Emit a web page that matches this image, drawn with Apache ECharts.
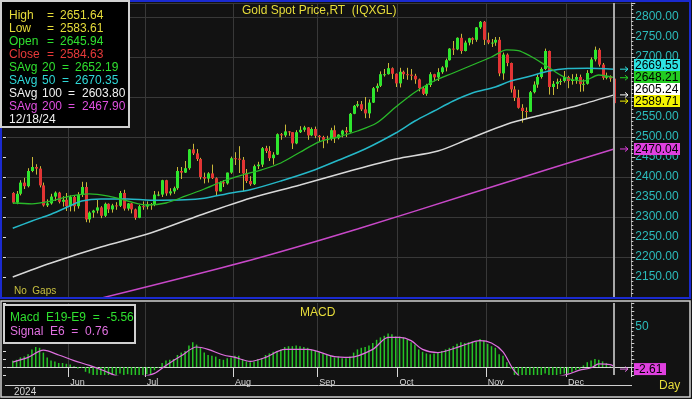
<!DOCTYPE html>
<html>
<head>
<meta charset="utf-8">
<script src="https://cdn.jsdelivr.net/npm/echarts@6/dist/echarts.min.js"></script>
<style>
html,body{margin:0;padding:0;background:#121212;}
#main{width:692px;height:399px;}
</style>
</head>
<body>
<div id="main"></div>
<script>
// daily OHLC, gold spot, 13 May – 18 Dec 2024 (weekdays)
var openVals = [
  2360,2336,2358,2386,2377,2415,2425,2421,2379,2329,2334,2351,2361,2338,2343,
  2327,2350,2327,2355,2375,2294,2311,2316,2324,2303,2333,2319,2329,2328,2360,2321,2334,2319,2298,2327,
  2326,2332,2330,2356,2356,2392,2359,2364,2372,2415,2411,2422,2469,2459,2445,2400,2396,2409,2397,2364,2387,2384,2411,
  2447,2446,2443,2409,2390,2382,2427,2431,2472,2465,2447,2456,2507,2504,2514,2512,2484,2512,2518,2524,2504,2520,
  2503,2500,2493,2495,2517,2497,2506,2516,2512,2558,2578,2582,2569,2559,2586,2622,2628,2657,2657,2672,2658,
  2634,2663,2657,2656,2653,2644,2622,2608,2630,2657,2649,2662,2674,2692,2721,2719,2748,2715,2736,2747,2743,2774,2788,
  2743,2736,2736,2743,2659,2706,2685,2619,2598,2573,2565,2563,2612,2631,2650,2670,2715,2625,2633,2638,2640,
  2650,2640,2643,2650,2632,2633,2660,2694,2718,2681,2648,2652,2645.94
];
var highVals = [
  2362,2365,2392,2398,2422,2450,2432,2427,2386,2344,2358,2364,2363,2352,2360,
  2354,2354,2362,2388,2387,2314,2318,2343,2327,2336,2334,2333,2337,2365,2368,2335,2335,2321,2330,2339,
  2339,2335,2365,2364,2393,2393,2372,2376,2425,2425,2440,2470,2483,2470,2448,2411,2412,2431,2399,2389,2392,2411,2451,
  2462,2477,2450,2420,2402,2431,2438,2475,2478,2477,2462,2509,2510,2531,2515,2512,2517,2527,2528,2525,2524,2526,
  2505,2503,2503,2523,2529,2507,2518,2525,2560,2580,2590,2590,2600,2594,2625,2634,2664,2670,2685,2674,2659,
  2673,2666,2673,2670,2658,2646,2625,2633,2662,2658,2672,2677,2696,2722,2740,2749,2758,2741,2748,2749,2775,2790,2790,
  2761,2745,2750,2750,2711,2709,2686,2627,2618,2582,2574,2615,2639,2656,2674,2721,2716,2640,2646,2646,2665,
  2653,2657,2658,2656,2644,2667,2699,2726,2722,2685,2661,2654,2651.64
];
var lowVals = [
  2333,2332,2354,2370,2374,2412,2406,2374,2326,2325,2331,2340,2334,2326,2315,
  2314,2314,2321,2350,2287,2286,2298,2309,2297,2300,2310,2311,2318,2325,2316,2316,2309,2293,2297,2318,
  2319,2318,2327,2352,2350,2353,2354,2358,2368,2395,2410,2418,2455,2440,2394,2384,2386,2395,2353,2364,2375,2381,2408,
  2430,2410,2364,2385,2378,2380,2420,2425,2460,2440,2431,2455,2493,2500,2503,2470,2482,2510,2513,2493,2502,2497,
  2489,2472,2484,2491,2485,2494,2499,2500,2511,2557,2574,2565,2547,2547,2585,2613,2625,2651,2656,2645,2625,
  2624,2645,2643,2642,2633,2614,2605,2603,2625,2639,2640,2658,2664,2691,2705,2717,2708,2714,2729,2732,2738,2770,2730,
  2732,2725,2728,2652,2643,2677,2611,2590,2571,2536,2546,2563,2609,2623,2646,2667,2606,2605,2620,2630,2636,
  2622,2631,2633,2613,2614,2631,2659,2689,2676,2643,2644,2638,2583.61
];
var closeVals = [
  2336,2358,2386,2377,2415,2425,2421,2379,2329,2334,2351,2361,2338,2343,2327,
  2350,2327,2355,2375,2294,2311,2316,2324,2303,2333,2319,2329,2328,2360,2321,2334,2319,2298,2327,2326,
  2332,2330,2356,2356,2392,2359,2364,2372,2415,2411,2422,2469,2459,2445,2400,2396,2409,2397,2364,2387,2384,2411,2447,
  2446,2443,2409,2390,2382,2427,2431,2472,2465,2447,2456,2507,2504,2514,2512,2484,2512,2518,2524,2504,2520,2503,
  2500,2493,2495,2517,2497,2506,2516,2512,2558,2578,2582,2569,2559,2586,2622,2628,2657,2657,2672,2658,2634,
  2663,2657,2656,2653,2644,2622,2608,2630,2657,2649,2662,2674,2692,2721,2719,2748,2715,2736,2747,2743,2774,2788,2743,
  2736,2736,2743,2659,2706,2685,2619,2598,2573,2565,2563,2612,2631,2650,2670,2715,2625,2633,2638,2640,2650,
  2640,2643,2650,2632,2633,2660,2694,2718,2681,2648,2652,2646,2584.63
];

// moving averages: [day index, value]
var savg20 = [[0,2335],[5,2333],[10,2340],[15,2352],[20,2358],[25,2352],[30,2340],[35,2330],[40,2335],[45,2352],
  [50,2370],[55,2390],[60,2405],[65,2418],[70,2435],[75,2462],[80,2488],[85,2500],[90,2515],[95,2535],[100,2575],
  [105,2612],[110,2640],[115,2660],[120,2680],[125,2700],[129,2718],[132,2716],[135,2703],[139,2680],[144,2650],
  [149,2640],[153,2655],[157,2648.21]];
var savg50 = [[0,2272],[5,2290],[10,2307],[15,2328],[18,2340],[23,2345],[30,2345],[36,2342],[45,2343],[50,2347],
  [57,2360],[62,2368],[70,2390],[78,2415],[85,2442],[92,2470],[100,2510],[105,2540],[110,2565],[115,2590],[120,2610],
  [126,2625],[130,2640],[135,2652],[140,2665],[145,2671],[150,2672],[157,2669.55]];
var savg100 = [[0,2150],[10,2185],[23,2225],[36,2260],[49,2305],[62,2347],[75,2380],[88,2415],[100,2445],[111,2465],
  [119,2495],[129,2532],[138,2555],[148,2580],[157,2605.24]];
var savg200 = [[0,2045],[23,2097],[62,2192],[90,2270],[120,2360],[140,2420],[157,2470.04]];

// MACD histogram and signal
var macdVals = [
  8,9,12,13,16,22,25,24,18,12,8,7,5,5,4,
  3,1,-2,-1,-6,-8,-10,-11,-13,-12,-13,-12,-11,-8,-10,-9,-10,-13,-11,-10,
  -9,-9,-4,-1,5,8,9,10,15,18,20,27,31,28,24,18,15,14,13,10,9,11,12,
  14,14,10,7,6,7,10,11,15,17,19,20,22,25,26,26,27,26,25,24,22,20,
  19,17,15,14,12,13,11,11,13,18,22,24,25,27,30,34,37,39,42,41,38,
  38,37,34,31,28,22,19,17,16,17,18,20,22,24,26,29,31,30,31,32,32,35,33,
  29,26,24,16,14,6,-2,-10,-18,-24,-28,-28,-24,-20,-15,-8,-12,-11,-10,-9,-8,
  -8,-7,-4,-3,2,6,8,10,9,7,5,1,-5.56
];
var signalVals = [[0,6],[4,12],[8,21],[12,15],[16,8],[20,2],[24,-5],[27,-11],[30,-13],[34,-12],[37,-8],[40,2],
  [44,14],[48,25],[51,22],[55,15],[58,12],[62,7],[66,12],[71,22],[77,22],[84,13],[88,12],[94,22],[98,37],[101,37],
  [104,33],[107,22],[111,18],[117,26],[122,33],[125,30],[128,19],[131,-5],[135,-20],[140,-15],[145,-9],[148,-4],
  [151,-1],[153,4],[156,3],[157,0.76]];

var priceTicks = [2150,2200,2250,2300,2350,2400,2450,2500,2550,2600,2650,2700,2750,2800];
var tagValues = [2669.55, 2648.21, 2605.24, 2589.71, 2470.04];
var tagColors = ['#2ee4e4', '#22cc22', '#ffffff', '#f2f200', '#e040e0'];
var macdTag = -2.61;

var legendNames = ['High', 'Low', 'Open', 'Close', 'SAvg', 'SAvg', 'SAvg', 'SAvg'];
var legendNums = ['', '', '', '', '20', '50', '100', '200'];
var legendValues = ['2651.64', '2583.61', '2645.94', '2584.63', '2652.19', '2670.35', '2603.80', '2467.90'];
var legendColors = ['#e6dc3a', '#e6dc3a', '#2fe02f', '#e83a3a', '#2fe02f', '#2fd8d8', '#f0f0f0', '#e050e0'];
var lastDate = '12/18/24';
var monthNames = ['Jan','Feb','Mar','Apr','May','Jun','Jul','Aug','Sep','Oct','Nov','Dec'];

// weekdays between first and last bar
var dates = [];
(function () {
  var d = new Date(2024, 4, 13), end = new Date(2024, 11, 18);
  while (d <= end) {
    var w = d.getDay();
    if (w > 0 && w < 6) dates.push(d.getFullYear() + '-' + (d.getMonth() + 1) + '-' + d.getDate());
    d.setDate(d.getDate() + 1);
  }
})();
// one empty slot on the left, four on the right
var cats = [''].concat(dates, ['', '', '', '']);
var lastIdx = dates.length; // shifted by the pad

function monthOf(s) { return s ? parseInt(s.split('-')[1], 10) : -1; }
function isMonthStart(i) {
  return i > 1 && cats[i] !== '' && cats[i - 1] !== '' && monthOf(cats[i]) !== monthOf(cats[i - 1]);
}
function shift(arr) { return arr.map(function (p) { return [p[0] + 1, p[1]]; }); }

var candleData = [];
for (var i = 0; i < dates.length; i++) {
  candleData.push([i + 1, openVals[i], closeVals[i], lowVals[i], highVals[i]]);
}
var macdData = macdVals.map(function (v, i) { return [i + 1, v]; });

var chart = echarts.init(document.getElementById('main'));

var gridLine = { show: true, lineStyle: { color: '#383838', width: 1 } };
var font = 'Arial, "Liberation Sans", sans-serif';

function maLine(name, data, color, width) {
  return {
    name: name, type: 'line', xAxisIndex: 0, yAxisIndex: 0, data: shift(data),
    symbol: 'none', smooth: 0.3, silent: true,
    lineStyle: { color: color, width: width }
  };
}

var option = {
  backgroundColor: '#121212',
  animation: false,
  grid: [
    { left: 7, top: 3, width: 624.3, height: 294 },
    { left: 7, top: 303, width: 624.3, height: 72 }
  ],
  xAxis: [
    { type: 'category', gridIndex: 0, data: cats, boundaryGap: true,
      axisLine: { show: false }, axisTick: { show: false }, axisLabel: { show: false },
      splitLine: { show: true, interval: function (i) { return isMonthStart(i); }, lineStyle: { color: '#383838' } } },
    { type: 'category', gridIndex: 1, data: cats, boundaryGap: true, position: 'bottom',
      axisLine: { show: true, lineStyle: { color: '#d8d8d8', width: 1 } },
      axisTick: { show: true, length: 10, interval: function (i) { return isMonthStart(i); }, lineStyle: { color: '#d8d8d8' } },
      axisLabel: { show: true, interval: function (i) { return isMonthStart(i); }, align: 'left', margin: 3,
        color: '#d8d8d8', fontSize: 9, fontFamily: font,
        formatter: function (v) { return v ? monthNames[monthOf(v) - 1] : ''; } },
      splitLine: { show: true, interval: function (i) { return isMonthStart(i); }, lineStyle: { color: '#383838' } } }
  ],
  yAxis: [
    { type: 'value', gridIndex: 0, position: 'right', min: 2100, max: 2835, interval: 50,
      axisLine: { show: true, lineStyle: { color: '#9a9a9a' } },
      axisTick: { show: true, length: 4, lineStyle: { color: '#cfcfcf' } },
      minorTick: { show: true, splitNumber: 5, length: 2, lineStyle: { color: '#cfcfcf' } },
      axisLabel: { color: '#2bbcbc', fontSize: 12, fontFamily: font, margin: 4,
        formatter: function (v) { return priceTicks.indexOf(v) >= 0 ? v.toFixed(2) : ''; } },
      splitLine: { show: false } },
    { type: 'value', gridIndex: 0, position: 'left', offset: 4, min: 2100, max: 2835, interval: 50,
      axisLine: { show: false },
      axisTick: { show: true, inside: true, length: 3, lineStyle: { color: '#e0e0e0' } },
      axisLabel: { show: false }, splitLine: { show: false } },
    { type: 'value', gridIndex: 0, position: 'left', min: 2100, max: 2835, interval: 100,
      axisLine: { show: false }, axisTick: { show: false }, axisLabel: { show: false },
      splitLine: gridLine },
    { type: 'value', gridIndex: 1, position: 'right', min: -10, max: 80, interval: 10,
      axisLine: { show: true, lineStyle: { color: '#9a9a9a' } },
      axisTick: { show: true, length: 3, lineStyle: { color: '#cfcfcf' } },
      minorTick: { show: true, splitNumber: 2, length: 2, lineStyle: { color: '#cfcfcf' } },
      axisLabel: { color: '#2bbcbc', fontSize: 12, fontFamily: font, margin: 4,
        formatter: function (v) { return v === 50 ? '50' : ''; } },
      splitLine: { show: false } },
    { type: 'value', gridIndex: 1, position: 'left', offset: 4, min: -10, max: 80, interval: 10,
      axisLine: { show: false },
      axisTick: { show: true, inside: true, length: 3, lineStyle: { color: '#e0e0e0' } },
      axisLabel: { show: false }, splitLine: { show: false } }
  ],
  series: [
    {
      name: 'candles', type: 'custom', xAxisIndex: 0, yAxisIndex: 0, clip: true,
      encode: { x: 0, y: [1, 2, 3, 4] },
      data: candleData,
      renderItem: function (params, api) {
        var k = api.value(0), o = api.value(1), c = api.value(2), l = api.value(3), h = api.value(4);
        var pO = api.coord([k, o]), pC = api.coord([k, c]);
        var pL = api.coord([k, l]), pH = api.coord([k, h]);
        var x = Math.round(pO[0]);
        var top = Math.min(pO[1], pC[1]), bot = Math.max(pO[1], pC[1]);
        return {
          type: 'group',
          children: [
            { type: 'line', shape: { x1: x + 0.5, y1: pH[1], x2: x + 0.5, y2: pL[1] },
              style: { stroke: '#c9b83a', lineWidth: 1 } },
            { type: 'rect', shape: { x: x - 1, y: top, width: 3, height: Math.max(1, bot - top) },
              style: { fill: c >= o ? '#2ee62e' : '#e23434' } }
          ]
        };
      }
    },
    maLine('SAvg 200', savg200, '#c848c8', 1.5),
    maLine('SAvg 100', savg100, '#d8d8d8', 1.5),
    maLine('SAvg 50', savg50, '#25b8c8', 1.5),
    (function () {
      var s = maLine('SAvg 20', savg20, '#2aba2a', 1.3);
      s.markLine = { silent: true, symbol: 'none', label: { show: false },
        lineStyle: { color: '#a8a8a8', width: 2, type: 'solid' }, data: [{ xAxis: lastIdx }] };
      return s;
    })(),
    {
      name: 'Macd', type: 'bar', xAxisIndex: 1, yAxisIndex: 3, data: macdData, barWidth: 1.5,
      itemStyle: { color: '#26c426' }, silent: true,
      markLine: { silent: true, symbol: 'none', label: { show: false },
        lineStyle: { color: '#a8a8a8', width: 2, type: 'solid' }, data: [{ xAxis: lastIdx }] }
    },
    {
      name: 'Signal', type: 'line', xAxisIndex: 1, yAxisIndex: 3, data: shift(signalVals),
      symbol: 'none', smooth: 0.3, silent: true, lineStyle: { color: '#e070e0', width: 1.2 }
    }
  ]
};
chart.setOption(option);

// texts, boxes and right-side value tags
var g = [];
function txt(x, y, s, color, size, extra) {
  var o = { type: 'text', x: x, y: y, z: 100,
    style: { text: s, fill: color, font: (size || 12) + 'px ' + font, verticalAlign: 'middle', align: 'left' } };
  if (extra) for (var k in extra) o.style[k] = extra[k];
  g.push(o);
}
// frames
g.push({ type: 'rect', z: 90, shape: { x: 1, y: 1, width: 689, height: 297 },
  style: { fill: 'none', stroke: '#1a2ad0', lineWidth: 2 } });
g.push({ type: 'rect', z: 90, shape: { x: 1, y: 301, width: 689, height: 96 },
  style: { fill: 'none', stroke: '#cfcfcf', lineWidth: 1.5 } });
g.push({ type: 'line', z: 90, shape: { x1: 5, y1: 385.5, x2: 632, y2: 385.5 },
  style: { stroke: '#cfcfcf', lineWidth: 1 } });

// price legend box
g.push({ type: 'rect', z: 95, shape: { x: 1, y: 1, width: 128, height: 126 },
  style: { fill: '#000', stroke: '#d0d0d0', lineWidth: 2 } });
var rowY = [16, 29, 42, 55, 68, 81, 94, 107];
for (var r = 0; r < legendNames.length; r++) {
  var col = legendColors[r];
  txt(9, rowY[r], legendNames[r], col);
  if (r < 4) {
    txt(47, rowY[r], '=', col);
    txt(60, rowY[r], legendValues[r], col);
  } else if (r < 6) {
    txt(42, rowY[r], legendNums[r], col);
    txt(62, rowY[r], '=', col);
    txt(75, rowY[r], legendValues[r], col);
  } else {
    txt(42, rowY[r], legendNums[r], col);
    txt(68, rowY[r], '=', col);
    txt(82, rowY[r], legendValues[r], col);
  }
}
txt(9, 120, lastDate, '#f0f0f0');

txt(242, 11, 'Gold Spot Price,RT  (IQXGL)', '#e6dc3a');
txt(14, 291, 'No  Gaps', '#c8c040', 10);

// MACD legend box
g.push({ type: 'rect', z: 95, shape: { x: 4, y: 305, width: 131, height: 38 },
  style: { fill: '#000', stroke: '#d0d0d0', lineWidth: 2 } });
txt(10, 318, 'Macd  E19-E9  =  -5.56', '#2fe02f');
txt(10, 332, 'Signal  E6  =  0.76', '#e070e0');
txt(300, 313, 'MACD', '#e6dc3a');
txt(14, 392, '2024', '#d8d8d8', 10);
txt(659, 386, 'Day', '#e6dc3a');

// value tags on the price axis
var tagY = tagValues.map(function (v) { return chart.convertToPixel({ yAxisIndex: 0 }, v); });
var tagPos = tagY.slice();
for (var t = tagPos.length - 2; t >= 0; t--) {
  if (tagPos[t] > tagPos[t + 1] - 12) tagPos[t] = tagPos[t + 1] - 12;
}
function arrow(y, color) {
  g.push({ type: 'polyline', z: 96, shape: { points: [[620, y], [628, y]] }, style: { stroke: color, lineWidth: 1 } });
  g.push({ type: 'polyline', z: 96, shape: { points: [[625, y - 2.5], [628, y], [625, y + 2.5]] },
    style: { stroke: color, fill: 'none', lineWidth: 1 } });
}
for (var t2 = 0; t2 < tagValues.length; t2++) {
  arrow(tagY[t2], tagColors[t2]);
  g.push({ type: 'rect', z: 97, shape: { x: 634, y: tagPos[t2] - 6, width: 46, height: 12 },
    style: { fill: tagColors[t2] } });
  txt(635, tagPos[t2] + 0.5, tagValues[t2].toFixed(2), '#000');
}
var mY = chart.convertToPixel({ yAxisIndex: 3 }, macdTag);
arrow(mY, '#e070e0');
g.push({ type: 'rect', z: 97, shape: { x: 634, y: mY - 6, width: 32, height: 12 }, style: { fill: '#e040e0' } });
txt(635, mY + 0.5, macdTag.toFixed(2), '#000');

chart.setOption({ graphic: { elements: g } });
</script>
</body>
</html>
